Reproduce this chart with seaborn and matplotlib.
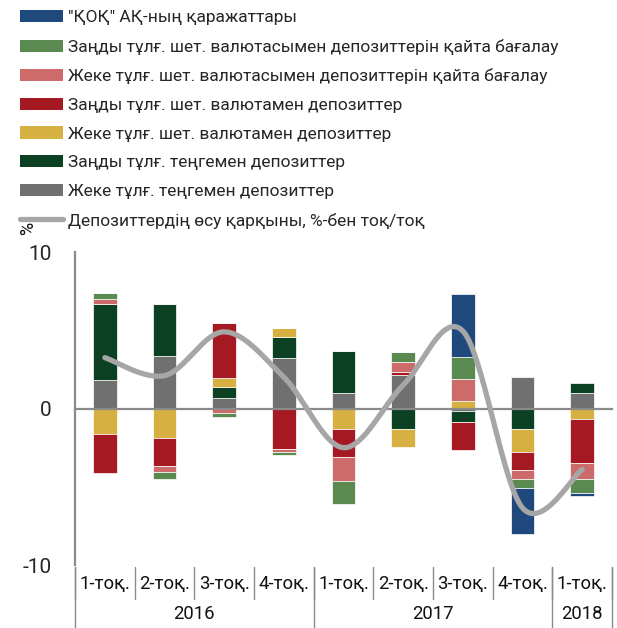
import numpy as np
import pandas as pd
import seaborn as sns
import matplotlib.pyplot as plt
from matplotlib.patches import Patch
from matplotlib.lines import Line2D

quarters = ["1-тоқ.", "2-тоқ.", "3-тоқ.", "4-тоқ.", "1-тоқ.", "2-тоқ.", "3-тоқ.", "4-тоқ.", "1-тоқ."]
years = ["2016", "2017", "2018"]
year_sizes = [4, 4, 1]

# series in stacking order (closest to zero first)
ind_kzt = [1.8, 3.35, 0.68, 3.2, 0.96, 2.17, -0.15, 2.02, 1.0]
leg_kzt = [4.9, 3.35, 0.72, 1.4, 2.7, -1.32, -0.68, -1.34, 0.66]
ind_fx = [-1.6, -1.9, 0.57, 0.53, -1.28, -1.17, 0.47, -1.47, -0.68]
leg_fx = [-2.55, -1.75, 3.47, -2.6, -1.85, 0.15, -1.83, -1.09, -2.83]
ind_reval = [0.3, -0.43, -0.26, -0.2, -1.49, 0.64, 1.42, -0.62, -1.0]
leg_reval = [0.35, -0.43, -0.3, -0.15, -1.49, 0.66, 1.4, -0.55, -0.89]
kdif = [0, 0, 0, 0, 0, 0, 4.0, -2.94, -0.17]
growth = [3.25, 2.1, 4.9, 2.0, -2.5, 1.5, 4.95, -6.35, -3.9]

series_names = [
    "Жеке тұлғ. теңгемен депозиттер",
    "Заңды тұлғ. теңгемен депозиттер",
    "Жеке тұлғ. шет. валютамен депозиттер",
    "Заңды тұлғ. шет. валютамен депозиттер",
    "Жеке тұлғ. шет. валютасымен депозиттерін қайта бағалау",
    "Заңды тұлғ. шет. валютасымен депозиттерін қайта бағалау",
    "\"ҚОҚ\" АҚ-ның қаражаттары",
]
series_colors = ["#707070", "#0B4023", "#D6B040", "#A51922", "#CD6B6B", "#5B8A50", "#1F497D"]
line_name = "Депозиттердің өсу қарқыны, %-бен тоқ/тоқ"
line_color = "#A6A6A6"

df = pd.DataFrame(
    np.array([ind_kzt, leg_kzt, ind_fx, leg_fx, ind_reval, leg_reval, kdif]).T,
    columns=series_names,
)

sns.set_style("white")
plt.rcParams["font.family"] = ["Roboto", "DejaVu Sans"]
plt.rcParams["axes.unicode_minus"] = False
axis_grey = "#8A8A8A"


def smooth_curve(xs, ys, n=40):
    """Excel-style smoothed line: bezier through the points"""
    pts = np.column_stack([xs, ys]).astype(float)
    out = []
    for i in range(len(pts) - 1):
        p0 = pts[i - 1] if i > 0 else pts[i]
        p1, p2 = pts[i], pts[i + 1]
        p3 = pts[i + 2] if i + 2 < len(pts) else pts[i + 1]
        c1 = p1 + (p2 - p0) / 6
        c2 = p2 - (p3 - p1) / 6
        t = np.linspace(0, 1, n)[:, None]
        seg = (1 - t) ** 3 * p1 + 3 * (1 - t) ** 2 * t * c1 + 3 * (1 - t) * t ** 2 * c2 + t ** 3 * p2
        out.append(seg)
    out = np.vstack(out)
    return out[:, 0], out[:, 1]


fig = plt.figure(figsize=(6.17, 6.28), dpi=100)
ax = fig.add_axes([0.1216, 0.1003, 0.8703, 0.4984])

x = np.arange(len(quarters))
pos_base = np.zeros(len(x))
neg_base = np.zeros(len(x))
for name, color in zip(series_names, series_colors):
    vals = df[name].values
    base = np.where(vals >= 0, pos_base, neg_base)
    ax.bar(x, vals, bottom=base, width=0.4, color=color, edgecolor="white", linewidth=0.5, zorder=2)
    pos_base = pos_base + np.clip(vals, 0, None)
    neg_base = neg_base + np.clip(vals, None, 0)

sx, sy = smooth_curve(x, growth)
ax.plot(sx, sy, color=line_color, lw=3.8, solid_capstyle="round", zorder=3)

ax.set_xlim(-0.5, len(x) - 0.5)
ax.set_ylim(-10, 10)
ax.set_yticks([-10, 0, 10])
ax.tick_params(axis="y", direction="out", length=7, width=1.5, color=axis_grey, labelsize=15, pad=10)
for s in ["top", "right"]:
    ax.spines[s].set_visible(False)
ax.spines["left"].set_color(axis_grey)
ax.spines["left"].set_linewidth(1.6)
ax.spines["bottom"].set_position(("data", 0))
ax.spines["bottom"].set_color(axis_grey)
ax.spines["bottom"].set_linewidth(1.6)
ax.spines["bottom"].set_zorder(2.5)
ax.set_xticks(np.arange(-0.5, len(x), 1.0))
ax.set_xticklabels([])
ax.tick_params(axis="x", direction="out", length=5, width=1.2, color=axis_grey)

# two-level category labels under the plot
trans = ax.get_xaxis_transform()
for i, q in enumerate(quarters):
    ax.text(i, -0.062, q, transform=trans, ha="center", va="center", fontsize=13.3, color="#111111")
for b in np.arange(-0.5, len(x), 1.0):
    ax.plot([b, b], [-0.005, -0.11], transform=trans, color=axis_grey, lw=1, clip_on=False)
start = 0
for yr, size in zip(years, year_sizes):
    ax.text(start + size / 2 - 0.5, -0.158, yr, transform=trans, ha="center", va="center", fontsize=13.3, color="#111111")
    ax.plot([start - 0.5, start - 0.5], [-0.005, -0.21], transform=trans, color=axis_grey, lw=1, clip_on=False)
    start += size
ax.plot([start - 0.5, start - 0.5], [-0.005, -0.21], transform=trans, color=axis_grey, lw=1, clip_on=False)

fig.text(28 / 617, 1 - 228 / 628, "%", rotation=90, ha="center", va="center", fontsize=13, color="#111111")

handles = [Patch(facecolor=c, edgecolor="none") for c in series_colors[::-1]]
handles.append(Line2D([0], [0], color=line_color, lw=3.8))
labels = series_names[::-1] + [line_name]
fig.legend(handles, labels, loc="upper left", bbox_to_anchor=(0.032, 1 - 10 / 628),
           frameon=False, fontsize=12.5, handlelength=2.5, handleheight=0.7,
           handletextpad=0.3, labelspacing=0.78, borderpad=0, borderaxespad=0)

fig.savefig("out.png", dpi=100)
